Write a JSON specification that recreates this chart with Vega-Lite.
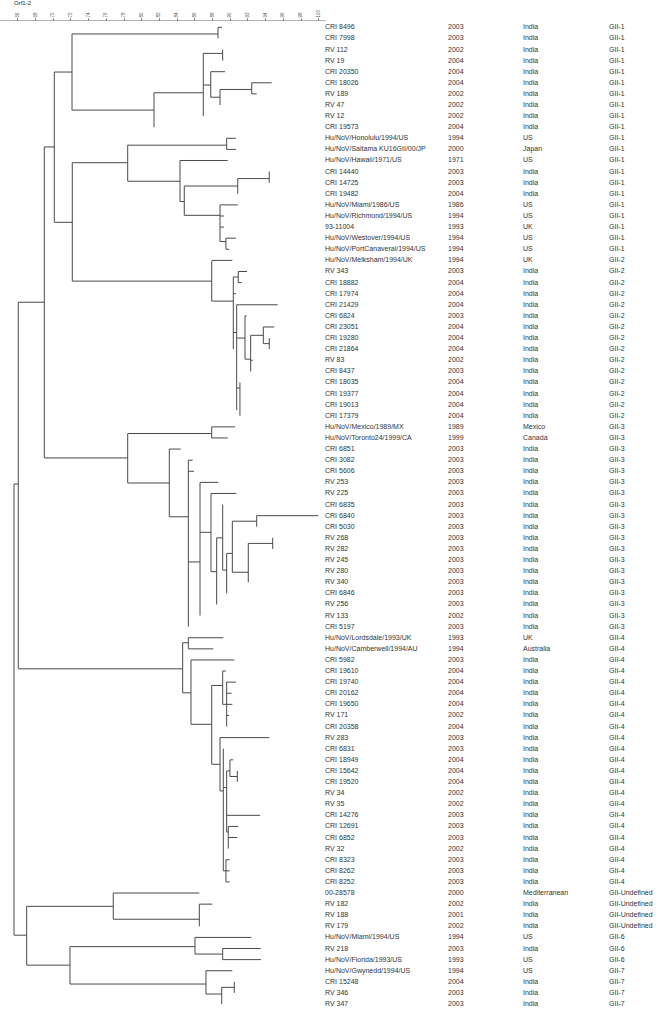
{
  "$schema": "https://vega.github.io/schema/vega-lite/v6.json",
  "padding": 0,
  "title": {"text": "Orf1-2", "anchor": "start", "fontSize": 6, "fontWeight": "normal", "color": "#222", "dx": 14, "offset": 3, "font": "Liberation Sans"},
  "config": {"view": {"stroke": null}, "font": "Liberation Sans", "text": {"fill": "#333"}},
  "spacing": 0,
  "bounds": "flush",
  "datasets": {
    "leaves": [
      {"row":1,"strain":"CRI 8496","year":"2003","country":"India","geno":"GII-1"},
      {"row":2,"strain":"CRI 7998","year":"2003","country":"India","geno":"GII-1"},
      {"row":3,"strain":"RV 112","year":"2002","country":"India","geno":"GII-1"},
      {"row":4,"strain":"RV 19","year":"2004","country":"India","geno":"GII-1"},
      {"row":5,"strain":"CRI 20350","year":"2004","country":"India","geno":"GII-1"},
      {"row":6,"strain":"CRI 18026","year":"2004","country":"India","geno":"GII-1"},
      {"row":7,"strain":"RV 189","year":"2002","country":"India","geno":"GII-1"},
      {"row":8,"strain":"RV 47","year":"2002","country":"India","geno":"GII-1"},
      {"row":9,"strain":"RV 12","year":"2002","country":"India","geno":"GII-1"},
      {"row":10,"strain":"CRI 19573","year":"2004","country":"India","geno":"GII-1"},
      {"row":11,"strain":"Hu/NoV/Honolulu/1994/US","year":"1994","country":"US","geno":"GII-1"},
      {"row":12,"strain":"Hu/NoV/Saitama KU16GII/00/JP","year":"2000","country":"Japan","geno":"GII-1"},
      {"row":13,"strain":"Hu/NoV/Hawaii/1971/US","year":"1971","country":"US","geno":"GII-1"},
      {"row":14,"strain":"CRI 14440","year":"2003","country":"India","geno":"GII-1"},
      {"row":15,"strain":"CRI 14725","year":"2003","country":"India","geno":"GII-1"},
      {"row":16,"strain":"CRI 19482","year":"2004","country":"India","geno":"GII-1"},
      {"row":17,"strain":"Hu/NoV/Miami/1986/US","year":"1986","country":"US","geno":"GII-1"},
      {"row":18,"strain":"Hu/NoV/Richmond/1994/US","year":"1994","country":"US","geno":"GII-1"},
      {"row":19,"strain":"93-11004","year":"1993","country":"UK","geno":"GII-1"},
      {"row":20,"strain":"Hu/NoV/Westover/1994/US","year":"1994","country":"US","geno":"GII-1"},
      {"row":21,"strain":"Hu/NoV/PortCanaveral/1994/US","year":"1994","country":"US","geno":"GII-1"},
      {"row":22,"strain":"Hu/NoV/Melksham/1994/UK","year":"1994","country":"UK","geno":"GII-2"},
      {"row":23,"strain":"RV 343","year":"2003","country":"India","geno":"GII-2"},
      {"row":24,"strain":"CRI 18882","year":"2004","country":"India","geno":"GII-2"},
      {"row":25,"strain":"CRI 17974","year":"2004","country":"India","geno":"GII-2"},
      {"row":26,"strain":"CRI 21429","year":"2004","country":"India","geno":"GII-2"},
      {"row":27,"strain":"CRI 6824","year":"2003","country":"India","geno":"GII-2"},
      {"row":28,"strain":"CRI 23051","year":"2004","country":"India","geno":"GII-2"},
      {"row":29,"strain":"CRI 19280","year":"2004","country":"India","geno":"GII-2"},
      {"row":30,"strain":"CRI 21864","year":"2004","country":"India","geno":"GII-2"},
      {"row":31,"strain":"RV 83","year":"2002","country":"India","geno":"GII-2"},
      {"row":32,"strain":"CRI 8437","year":"2003","country":"India","geno":"GII-2"},
      {"row":33,"strain":"CRI 18035","year":"2004","country":"India","geno":"GII-2"},
      {"row":34,"strain":"CRI 19377","year":"2004","country":"India","geno":"GII-2"},
      {"row":35,"strain":"CRI 19013","year":"2004","country":"India","geno":"GII-2"},
      {"row":36,"strain":"CRI 17379","year":"2004","country":"India","geno":"GII-2"},
      {"row":37,"strain":"Hu/NoV/Mexico/1989/MX","year":"1989","country":"Mexico","geno":"GII-3"},
      {"row":38,"strain":"Hu/NoV/Toronto24/1999/CA","year":"1999","country":"Canada","geno":"GII-3"},
      {"row":39,"strain":"CRI 6851","year":"2003","country":"India","geno":"GII-3"},
      {"row":40,"strain":"CRI 3082","year":"2003","country":"India","geno":"GII-3"},
      {"row":41,"strain":"CRI 5606","year":"2003","country":"India","geno":"GII-3"},
      {"row":42,"strain":"RV 253","year":"2003","country":"India","geno":"GII-3"},
      {"row":43,"strain":"RV 225","year":"2003","country":"India","geno":"GII-3"},
      {"row":44,"strain":"CRI 6835","year":"2003","country":"India","geno":"GII-3"},
      {"row":45,"strain":"CRI 6840","year":"2003","country":"India","geno":"GII-3"},
      {"row":46,"strain":"CRI 5030","year":"2003","country":"India","geno":"GII-3"},
      {"row":47,"strain":"RV 268","year":"2003","country":"India","geno":"GII-3"},
      {"row":48,"strain":"RV 282","year":"2003","country":"India","geno":"GII-3"},
      {"row":49,"strain":"RV 245","year":"2003","country":"India","geno":"GII-3"},
      {"row":50,"strain":"RV 280","year":"2003","country":"India","geno":"GII-3"},
      {"row":51,"strain":"RV 340","year":"2003","country":"India","geno":"GII-3"},
      {"row":52,"strain":"CRI 6846","year":"2003","country":"India","geno":"GII-3"},
      {"row":53,"strain":"RV 256","year":"2003","country":"India","geno":"GII-3"},
      {"row":54,"strain":"RV 133","year":"2002","country":"India","geno":"GII-3"},
      {"row":55,"strain":"CRI 5197","year":"2003","country":"India","geno":"GII-3"},
      {"row":56,"strain":"Hu/NoV/Lordsdale/1993/UK","year":"1993","country":"UK","geno":"GII-4"},
      {"row":57,"strain":"Hu/NoV/Camberwell/1994/AU","year":"1994","country":"Australia","geno":"GII-4"},
      {"row":58,"strain":"CRI 5982","year":"2003","country":"India","geno":"GII-4"},
      {"row":59,"strain":"CRI 19610","year":"2004","country":"India","geno":"GII-4"},
      {"row":60,"strain":"CRI 19740","year":"2004","country":"India","geno":"GII-4"},
      {"row":61,"strain":"CRI 20162","year":"2004","country":"India","geno":"GII-4"},
      {"row":62,"strain":"CRI 19650","year":"2004","country":"India","geno":"GII-4"},
      {"row":63,"strain":"RV 171","year":"2002","country":"India","geno":"GII-4"},
      {"row":64,"strain":"CRI 20358","year":"2004","country":"India","geno":"GII-4"},
      {"row":65,"strain":"RV 283","year":"2003","country":"India","geno":"GII-4"},
      {"row":66,"strain":"CRI 6831","year":"2003","country":"India","geno":"GII-4"},
      {"row":67,"strain":"CRI 18949","year":"2004","country":"India","geno":"GII-4"},
      {"row":68,"strain":"CRI 15642","year":"2004","country":"India","geno":"GII-4"},
      {"row":69,"strain":"CRI 19520","year":"2004","country":"India","geno":"GII-4"},
      {"row":70,"strain":"RV 34","year":"2002","country":"India","geno":"GII-4"},
      {"row":71,"strain":"RV 35","year":"2002","country":"India","geno":"GII-4"},
      {"row":72,"strain":"CRI 14276","year":"2003","country":"India","geno":"GII-4"},
      {"row":73,"strain":"CRI 12691","year":"2003","country":"India","geno":"GII-4"},
      {"row":74,"strain":"CRI 6852","year":"2003","country":"India","geno":"GII-4"},
      {"row":75,"strain":"RV 32","year":"2002","country":"India","geno":"GII-4"},
      {"row":76,"strain":"CRI 8323","year":"2003","country":"India","geno":"GII-4"},
      {"row":77,"strain":"CRI 8262","year":"2003","country":"India","geno":"GII-4"},
      {"row":78,"strain":"CRI 8252","year":"2003","country":"India","geno":"GII-4"},
      {"row":79,"strain":"00-28578","year":"2000","country":"Mediterranean","geno":"GII-Undefined"},
      {"row":80,"strain":"RV 182","year":"2002","country":"India","geno":"GII-Undefined"},
      {"row":81,"strain":"RV 188","year":"2001","country":"India","geno":"GII-Undefined"},
      {"row":82,"strain":"RV 179","year":"2002","country":"India","geno":"GII-Undefined"},
      {"row":83,"strain":"Hu/NoV/Miami/1994/US","year":"1994","country":"US","geno":"GII-6"},
      {"row":84,"strain":"RV 218","year":"2003","country":"India","geno":"GII-6"},
      {"row":85,"strain":"Hu/NoV/Florida/1993/US","year":"1993","country":"US","geno":"GII-6"},
      {"row":86,"strain":"Hu/NoV/Gwynedd/1994/US","year":"1994","country":"US","geno":"GII-7"},
      {"row":87,"strain":"CRI 15248","year":"2004","country":"India","geno":"GII-7"},
      {"row":88,"strain":"RV 346","year":"2003","country":"India","geno":"GII-7"},
      {"row":89,"strain":"RV 347","year":"2003","country":"India","geno":"GII-7"}
    ],
    "tree": [
      {"x":65.63,"x2":65.63,"y":42.15,"y2":82.8},
      {"x":65.63,"x2":66.11,"y":42.15,"y2":42.15},
      {"x":65.63,"x2":67.06,"y":82.8,"y2":82.8},
      {"x":66.11,"x2":66.11,"y":25.77,"y2":58.8},
      {"x":66.11,"x2":69.05,"y":25.77,"y2":25.77},
      {"x":66.11,"x2":84.68,"y":58.8,"y2":58.8},
      {"x":69.05,"x2":69.05,"y":11.78,"y2":39.8},
      {"x":69.05,"x2":70.18,"y":11.78,"y2":11.78},
      {"x":69.05,"x2":78.47,"y":39.8,"y2":39.8},
      {"x":70.18,"x2":70.18,"y":5.03,"y2":18.57},
      {"x":70.18,"x2":72.18,"y":5.03,"y2":5.03},
      {"x":70.18,"x2":72.21,"y":18.57,"y2":18.57},
      {"x":72.18,"x2":72.18,"y":1.6,"y2":8.46},
      {"x":72.18,"x2":88.67,"y":1.6,"y2":1.6},
      {"x":72.18,"x2":81.44,"y":8.46,"y2":8.46},
      {"x":88.67,"x2":88.67,"y":1,"y2":2},
      {"x":88.67,"x2":89.12,"y":1,"y2":1},
      {"x":81.44,"x2":81.44,"y":6.9,"y2":10},
      {"x":81.44,"x2":87.01,"y":6.9,"y2":6.9},
      {"x":87.01,"x2":87.01,"y":3.35,"y2":9},
      {"x":87.01,"x2":89.2,"y":3.35,"y2":3.35},
      {"x":89.2,"x2":89.2,"y":3,"y2":4},
      {"x":87.01,"x2":87.85,"y":6.2,"y2":6.2},
      {"x":87.85,"x2":87.85,"y":5,"y2":7.3},
      {"x":87.85,"x2":89.46,"y":5,"y2":5},
      {"x":87.85,"x2":88.9,"y":7.3,"y2":7.3},
      {"x":88.9,"x2":88.9,"y":6.6,"y2":8},
      {"x":88.9,"x2":92.48,"y":6.6,"y2":6.6},
      {"x":92.48,"x2":92.48,"y":6,"y2":7},
      {"x":92.48,"x2":94.74,"y":6,"y2":6},
      {"x":92.48,"x2":93.04,"y":7,"y2":7},
      {"x":72.21,"x2":72.21,"y":13.2,"y2":23.87},
      {"x":72.21,"x2":78.47,"y":13.2,"y2":13.2},
      {"x":72.21,"x2":87.96,"y":23.87,"y2":23.87},
      {"x":78.47,"x2":78.47,"y":11.62,"y2":14.87},
      {"x":78.47,"x2":89.65,"y":11.62,"y2":11.62},
      {"x":89.65,"x2":89.65,"y":11,"y2":12},
      {"x":89.65,"x2":90.7,"y":11,"y2":11},
      {"x":89.65,"x2":90.7,"y":12,"y2":12},
      {"x":78.47,"x2":84.38,"y":14.87,"y2":14.87},
      {"x":84.38,"x2":84.38,"y":13,"y2":16.7},
      {"x":84.38,"x2":89.77,"y":13,"y2":13},
      {"x":84.38,"x2":84.86,"y":16.7,"y2":16.7},
      {"x":84.86,"x2":84.86,"y":15.3,"y2":17.94},
      {"x":84.86,"x2":90.9,"y":15.3,"y2":15.3},
      {"x":90.9,"x2":90.9,"y":14.63,"y2":16},
      {"x":90.9,"x2":94.46,"y":14.63,"y2":14.63},
      {"x":94.46,"x2":94.46,"y":14,"y2":15},
      {"x":84.86,"x2":88.9,"y":17.94,"y2":17.94},
      {"x":88.9,"x2":88.9,"y":17,"y2":20.3},
      {"x":88.9,"x2":90.9,"y":17,"y2":17},
      {"x":88.9,"x2":89.35,"y":18,"y2":18},
      {"x":88.9,"x2":89.35,"y":19,"y2":19},
      {"x":88.9,"x2":89.57,"y":20.3,"y2":20.3},
      {"x":89.57,"x2":89.57,"y":20,"y2":21},
      {"x":89.57,"x2":90.7,"y":20,"y2":20},
      {"x":89.57,"x2":89.91,"y":21,"y2":21},
      {"x":87.96,"x2":87.96,"y":22.07,"y2":25.67},
      {"x":87.96,"x2":90.29,"y":22,"y2":22},
      {"x":87.96,"x2":90.4,"y":25.67,"y2":25.67},
      {"x":90.4,"x2":90.4,"y":23.5,"y2":30},
      {"x":90.4,"x2":90.96,"y":23.5,"y2":23.5},
      {"x":90.96,"x2":90.96,"y":23,"y2":24},
      {"x":90.96,"x2":91.95,"y":23,"y2":23},
      {"x":90.96,"x2":91.35,"y":24,"y2":24},
      {"x":90.4,"x2":90.7,"y":25,"y2":25},
      {"x":90.4,"x2":90.78,"y":28.5,"y2":28.5},
      {"x":90.78,"x2":90.78,"y":26,"y2":35.5},
      {"x":90.78,"x2":95.41,"y":26,"y2":26},
      {"x":90.78,"x2":91.72,"y":29,"y2":29},
      {"x":91.72,"x2":91.72,"y":27,"y2":30.9},
      {"x":91.72,"x2":91.91,"y":27,"y2":27},
      {"x":91.72,"x2":92.36,"y":30.9,"y2":30.9},
      {"x":92.36,"x2":92.36,"y":28.75,"y2":32},
      {"x":92.36,"x2":93.79,"y":28.75,"y2":28.75},
      {"x":93.79,"x2":93.79,"y":28,"y2":29.5},
      {"x":93.79,"x2":95.03,"y":28,"y2":28},
      {"x":93.79,"x2":94.46,"y":29.5,"y2":29.5},
      {"x":94.46,"x2":94.46,"y":29,"y2":30},
      {"x":92.36,"x2":92.6,"y":31,"y2":31},
      {"x":90.78,"x2":91.15,"y":33.5,"y2":33.5},
      {"x":91.15,"x2":91.15,"y":33,"y2":36},
      {"x":78.47,"x2":78.47,"y":37.6,"y2":42.06},
      {"x":78.47,"x2":87.96,"y":37.6,"y2":37.6},
      {"x":87.96,"x2":87.96,"y":37,"y2":38},
      {"x":87.96,"x2":90.59,"y":37,"y2":37},
      {"x":87.96,"x2":89.77,"y":38,"y2":38},
      {"x":78.47,"x2":83.17,"y":42.06,"y2":42.06},
      {"x":83.17,"x2":83.17,"y":39,"y2":45.1},
      {"x":83.17,"x2":84.46,"y":39,"y2":39},
      {"x":83.17,"x2":85.32,"y":45.1,"y2":45.1},
      {"x":85.32,"x2":85.32,"y":40,"y2":55},
      {"x":85.32,"x2":85.81,"y":40,"y2":40},
      {"x":85.32,"x2":85.96,"y":41,"y2":41},
      {"x":85.32,"x2":86.64,"y":49.17,"y2":49.17},
      {"x":86.64,"x2":86.64,"y":42,"y2":54},
      {"x":86.64,"x2":88.7,"y":42,"y2":42},
      {"x":86.64,"x2":87.88,"y":46.5,"y2":46.5},
      {"x":87.88,"x2":87.88,"y":43,"y2":50.05},
      {"x":87.88,"x2":90.74,"y":43,"y2":43},
      {"x":87.88,"x2":88.52,"y":50.05,"y2":50.05},
      {"x":88.52,"x2":88.52,"y":47,"y2":53},
      {"x":88.52,"x2":89.2,"y":47,"y2":47},
      {"x":89.2,"x2":89.2,"y":44,"y2":49.9},
      {"x":89.2,"x2":89.65,"y":49.9,"y2":49.9},
      {"x":89.65,"x2":89.65,"y":48.4,"y2":52},
      {"x":89.65,"x2":90.29,"y":48.4,"y2":48.4},
      {"x":90.29,"x2":90.29,"y":45.5,"y2":50.1},
      {"x":90.29,"x2":93.04,"y":45.5,"y2":45.5},
      {"x":93.04,"x2":93.04,"y":45,"y2":46},
      {"x":93.04,"x2":100.0,"y":45,"y2":45},
      {"x":90.29,"x2":92.09,"y":50.1,"y2":50.1},
      {"x":92.09,"x2":92.09,"y":47.5,"y2":51},
      {"x":92.09,"x2":94.85,"y":47.5,"y2":47.5},
      {"x":94.85,"x2":94.85,"y":47,"y2":48},
      {"x":84.68,"x2":84.68,"y":56.45,"y2":60.96},
      {"x":84.68,"x2":85.32,"y":56.45,"y2":56.45},
      {"x":85.32,"x2":85.32,"y":56,"y2":57},
      {"x":85.32,"x2":89.27,"y":56,"y2":56},
      {"x":85.32,"x2":88.14,"y":57,"y2":57},
      {"x":84.68,"x2":85.62,"y":60.96,"y2":60.96},
      {"x":85.62,"x2":85.62,"y":58,"y2":63.8},
      {"x":85.62,"x2":90.51,"y":58,"y2":58},
      {"x":85.62,"x2":87.96,"y":63.8,"y2":63.8},
      {"x":87.96,"x2":87.96,"y":60.3,"y2":67.4},
      {"x":87.96,"x2":89.2,"y":60.3,"y2":60.3},
      {"x":89.2,"x2":89.2,"y":59,"y2":62},
      {"x":89.2,"x2":89.57,"y":59,"y2":59},
      {"x":89.2,"x2":89.65,"y":62,"y2":62},
      {"x":89.65,"x2":89.65,"y":60,"y2":64},
      {"x":89.65,"x2":90.7,"y":60,"y2":60},
      {"x":89.65,"x2":90.21,"y":61,"y2":61},
      {"x":89.65,"x2":90.29,"y":62,"y2":62},
      {"x":89.65,"x2":89.91,"y":63,"y2":63},
      {"x":87.96,"x2":88.9,"y":67.4,"y2":67.4},
      {"x":88.9,"x2":88.9,"y":65,"y2":69.8},
      {"x":88.9,"x2":94.46,"y":65,"y2":65},
      {"x":88.9,"x2":89.27,"y":69.8,"y2":69.8},
      {"x":89.27,"x2":89.27,"y":66,"y2":77},
      {"x":89.27,"x2":89.65,"y":69.5,"y2":69.5},
      {"x":89.65,"x2":89.65,"y":68,"y2":73.5},
      {"x":89.65,"x2":90.02,"y":68,"y2":68},
      {"x":90.02,"x2":90.02,"y":67,"y2":68.5},
      {"x":90.02,"x2":90.4,"y":67,"y2":67},
      {"x":90.02,"x2":90.85,"y":68.5,"y2":68.5},
      {"x":90.85,"x2":90.85,"y":68,"y2":69},
      {"x":89.65,"x2":93.41,"y":72,"y2":72},
      {"x":89.65,"x2":89.83,"y":73.5,"y2":73.5},
      {"x":89.83,"x2":89.83,"y":73,"y2":75},
      {"x":89.83,"x2":90.96,"y":73,"y2":73},
      {"x":89.83,"x2":90.85,"y":74,"y2":74},
      {"x":89.27,"x2":89.57,"y":77,"y2":77},
      {"x":89.57,"x2":89.57,"y":76,"y2":78},
      {"x":89.57,"x2":89.99,"y":76,"y2":76},
      {"x":89.57,"x2":89.99,"y":77,"y2":77},
      {"x":89.57,"x2":89.99,"y":78,"y2":78},
      {"x":67.06,"x2":67.06,"y":80.2,"y2":85.5},
      {"x":67.06,"x2":76.84,"y":80.2,"y2":80.2},
      {"x":76.84,"x2":76.84,"y":79,"y2":81.36},
      {"x":76.84,"x2":86.56,"y":79,"y2":79},
      {"x":76.84,"x2":86.56,"y":81.36,"y2":81.36},
      {"x":86.56,"x2":86.56,"y":80,"y2":82},
      {"x":86.56,"x2":88.03,"y":80,"y2":80},
      {"x":67.06,"x2":71.95,"y":85.5,"y2":85.5},
      {"x":71.95,"x2":71.95,"y":83.83,"y2":87.2},
      {"x":71.95,"x2":86.07,"y":83.83,"y2":83.83},
      {"x":86.07,"x2":86.07,"y":83,"y2":84.5},
      {"x":86.07,"x2":92.43,"y":83,"y2":83},
      {"x":86.07,"x2":89.2,"y":84.5,"y2":84.5},
      {"x":89.2,"x2":89.2,"y":84,"y2":85},
      {"x":89.2,"x2":93.49,"y":84,"y2":84},
      {"x":89.2,"x2":93.53,"y":85,"y2":85},
      {"x":71.95,"x2":87.31,"y":87.2,"y2":87.2},
      {"x":87.31,"x2":87.31,"y":86,"y2":88.1},
      {"x":87.31,"x2":90.29,"y":86,"y2":86},
      {"x":87.31,"x2":89.09,"y":88.1,"y2":88.1},
      {"x":89.09,"x2":89.09,"y":87.5,"y2":89},
      {"x":89.09,"x2":90.51,"y":87.5,"y2":87.5},
      {"x":90.51,"x2":90.51,"y":87,"y2":88}
    ]
  },
  "hconcat": [
    {
      "width": 325,
      "height": 999,
      "data": {"name": "tree"},
      "mark": {"type": "rule", "color": "#4a4a4a", "strokeWidth": 1},
      "encoding": {
        "x": {"field": "x", "type": "quantitative",
              "scale": {"domain": [64.046, 100.757], "nice": false, "zero": false},
              "axis": {"orient": "top", "title": null, "grid": false,
                       "values": [66,68,70,72,74,76,78,80,82,84,86,88,90,92,94,96,98,100],
                       "labelAngle": -90, "labelFontSize": 4.5, "labelPadding": 1, "labelColor": "#555",
                       "tickSize": 2, "tickColor": "#666", "domainColor": "#666", "domainDash": [1, 1]}},
        "x2": {"field": "x2"},
        "y": {"field": "y", "type": "quantitative",
              "scale": {"domain": [0.342, 90.35], "nice": false, "zero": false, "reverse": true},
              "axis": null},
        "y2": {"field": "y2"}
      }
    },
    {
      "width": 123,
      "height": 999,
      "data": {"name": "leaves"},
      "mark": {"type": "text", "align": "left", "baseline": "middle", "fontSize": 7, "fill": "#333"},
      "encoding": {
        "x": {"value": 0},
        "y": {"field": "row", "type": "quantitative",
              "scale": {"domain": [0.342, 90.35], "nice": false, "zero": false, "reverse": true}, "axis": null},
        "text": {"field": "strain", "type": "nominal"}
      }
    },
    {
      "width": 75,
      "height": 999,
      "data": {"name": "leaves"},
      "mark": {"type": "text", "align": "left", "baseline": "middle", "fontSize": 7, "fill": "#333"},
      "encoding": {
        "x": {"value": 0},
        "y": {"field": "row", "type": "quantitative",
              "scale": {"domain": [0.342, 90.35], "nice": false, "zero": false, "reverse": true}, "axis": null},
        "text": {"field": "year", "type": "nominal"}
      }
    },
    {
      "width": 86,
      "height": 999,
      "data": {"name": "leaves"},
      "mark": {"type": "text", "align": "left", "baseline": "middle", "fontSize": 7, "fill": "#333"},
      "encoding": {
        "x": {"value": 0},
        "y": {"field": "row", "type": "quantitative",
              "scale": {"domain": [0.342, 90.35], "nice": false, "zero": false, "reverse": true}, "axis": null},
        "text": {"field": "country", "type": "nominal"}
      }
    },
    {
      "width": 55,
      "height": 999,
      "data": {"name": "leaves"},
      "mark": {"type": "text", "align": "left", "baseline": "middle", "fontSize": 7, "fill": "#333"},
      "encoding": {
        "x": {"value": 0},
        "y": {"field": "row", "type": "quantitative",
              "scale": {"domain": [0.342, 90.35], "nice": false, "zero": false, "reverse": true}, "axis": null},
        "text": {"field": "geno", "type": "nominal"}
      }
    }
  ]
}
